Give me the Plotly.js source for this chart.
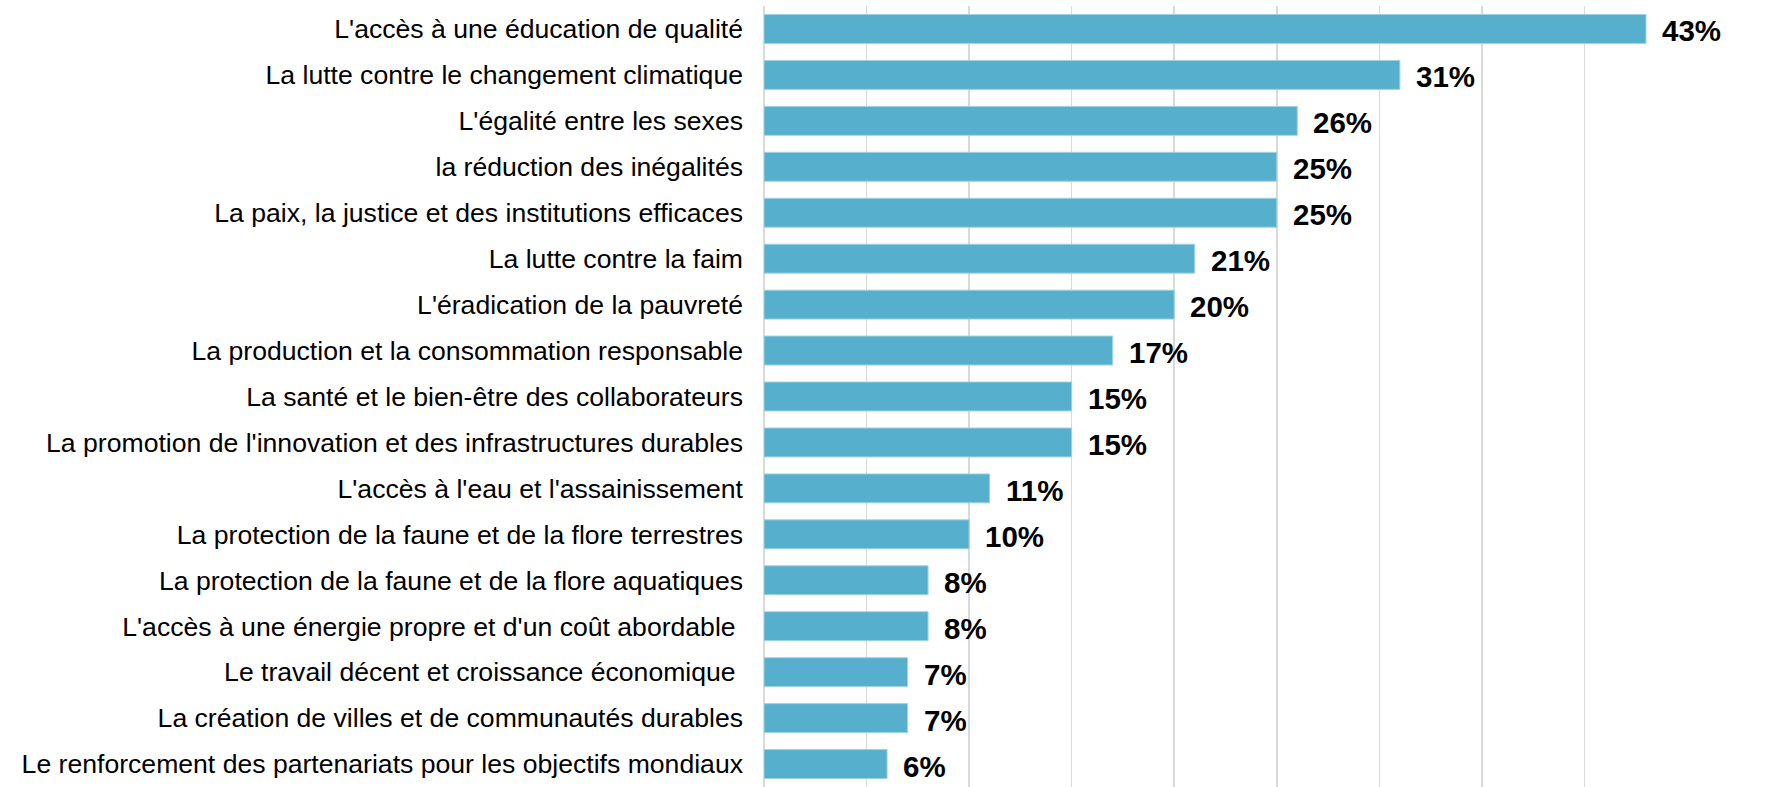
<!DOCTYPE html>
<html>
<head>
<meta charset="utf-8">
<script src="https://cdn.plot.ly/plotly-3.0.1.min.js"></script>
<style>
  html, body { margin: 0; padding: 0; background: #ffffff; }
  #chart { width: 1777px; height: 787px; }
</style>
</head>
<body>
<div id="chart"></div>
<script>
const categories = [
  "L'accès à une éducation de qualité",
  "La lutte contre le changement climatique",
  "L'égalité entre les sexes",
  "la réduction des inégalités",
  "La paix, la justice et des institutions efficaces",
  "La lutte contre la faim",
  "L'éradication de la pauvreté",
  "La production et la consommation responsable",
  "La santé et le bien-être des collaborateurs",
  "La promotion de l'innovation et des infrastructures durables",
  "L'accès à l'eau et l'assainissement",
  "La protection de la faune et de la flore terrestres",
  "La protection de la faune et de la flore aquatiques",
  "L'accès à une énergie propre et d'un coût abordable\u00a0",
  "Le travail décent et croissance économique\u00a0",
  "La création de villes et de communautés durables",
  "Le renforcement des partenariats pour les objectifs mondiaux"
];
const values = [0.43, 0.31, 0.26, 0.25, 0.25, 0.21, 0.20, 0.17, 0.15, 0.15, 0.11, 0.10, 0.08, 0.08, 0.07, 0.07, 0.06];
const valueLabels = ["43%", "31%", "26%", "25%", "25%", "21%", "20%", "17%", "15%", "15%", "11%", "10%", "8%", "8%", "7%", "7%", "6%"];

const trace = {
  type: 'bar',
  orientation: 'h',
  x: values,
  y: categories,
  marker: { color: '#56B0CD', line: { color: '#9fd3e4', width: 1 } },
  hoverinfo: 'x+y'
};

const annotations = categories.map((c, i) => ({
  x: values[i], y: c, xref: 'x', yref: 'y',
  text: '<b>' + valueLabels[i] + '</b>',
  showarrow: false, xanchor: 'left', yanchor: 'middle', xshift: 14, yshift: -2,
  font: { family: 'Liberation Sans, Arial, sans-serif', size: 29.5, color: '#000000' }
}));

const layout = {
  width: 1777, height: 787,
  margin: { l: 764, r: 90, t: 6, b: 0, pad: 0 },
  paper_bgcolor: '#ffffff', plot_bgcolor: '#ffffff',
  showlegend: false,
  bargap: 0.37,
  font: { family: 'Liberation Sans, Arial, sans-serif', size: 26.6, color: '#000000' },
  xaxis: {
    range: [0, 0.45], dtick: 0.05, showticklabels: false,
    showgrid: true, gridcolor: '#d9d9d9', gridwidth: 1.5,
    zeroline: true, zerolinecolor: '#d9d9d9', zerolinewidth: 2.5,
    fixedrange: true
  },
  yaxis: {
    type: 'category', autorange: 'reversed', showgrid: false, zeroline: false,
    ticks: '', ticklabelstandoff: 20,
    tickfont: { family: 'Liberation Sans, Arial, sans-serif', size: 26.6, color: '#000000' },
    fixedrange: true
  },
  annotations: annotations
};

Plotly.newPlot('chart', [trace], layout, { displayModeBar: false, staticPlot: true });
</script>
</body>
</html>
